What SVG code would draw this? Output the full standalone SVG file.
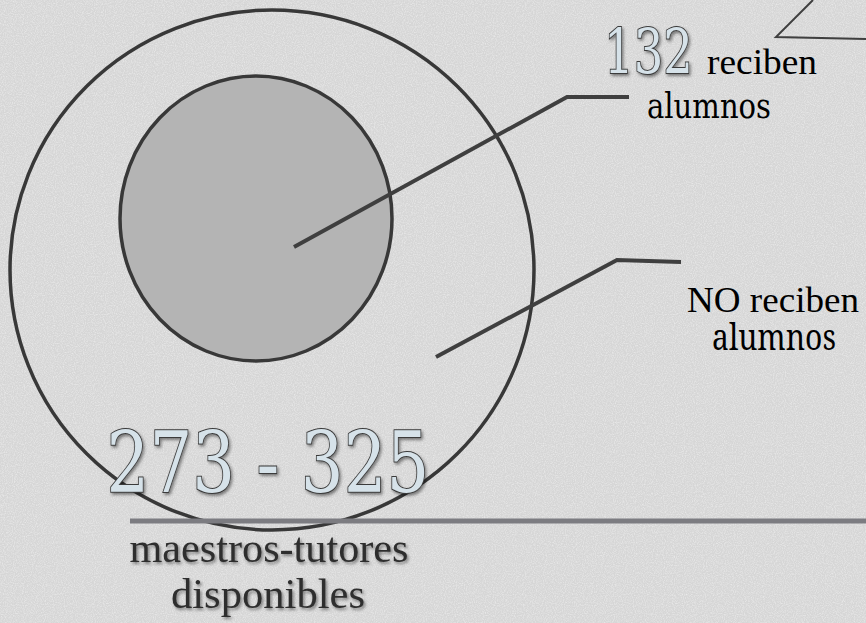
<svg xmlns="http://www.w3.org/2000/svg" width="866" height="623" viewBox="0 0 866 623">
  <defs>
    <filter id="noise" x="0" y="0" width="100%" height="100%">
      <feTurbulence type="fractalNoise" baseFrequency="0.9" numOctaves="2" seed="3" result="t"/>
      <feColorMatrix in="t" type="matrix" values="0 0 0 0 1  0 0 0 0 1  0 0 0 0 1  0.9 0 0 0 -0.35"/>
    </filter>
    <filter id="shadow" x="-10%" y="-10%" width="130%" height="140%">
      <feDropShadow dx="1.5" dy="2" stdDeviation="1.5" flood-color="#000" flood-opacity="0.45"/>
    </filter>
    <style>
      .ring { fill: none; stroke: #383838; stroke-width: 3.5; }
      .leader { fill: none; stroke: #3f3f3f; stroke-width: 4; stroke-linejoin: miter; }
      .big { fill: #d6e2e9; stroke: #3b3b3b; stroke-width: 2; paint-order: stroke; filter: url(#shadow); }
      .label { font-size: 36px; fill: #000; text-anchor: middle; }
      .caption { font-size: 42px; fill: #2e2e2e; text-anchor: middle; filter: url(#shadow); }
    </style>
  </defs>

  <rect width="866" height="623" fill="#d6d6d6"/>
  <rect width="866" height="623" filter="url(#noise)"/>

  <g id="outer-circle">
    <ellipse class="ring" cx="272" cy="270" rx="262" ry="260"/>
  </g>
  <g id="inner-circle">
    <ellipse cx="256" cy="218.5" rx="136" ry="142.5" fill="#b4b4b4" stroke="#383838" stroke-width="3.5"/>
  </g>

  <g id="connectors">
    <polyline class="leader" points="294,247 567,97 629,97"/>
    <polyline class="leader" points="436,357 617,260 681,262"/>
    <polyline points="813,0 776,37 866,39" fill="none" stroke="#3f3f3f" stroke-width="2"/>
    <line x1="130" y1="521" x2="866" y2="521" stroke="#7c7c81" stroke-width="5"/>
  </g>

  <g id="recipients">
    <text class="big" x="604" y="73" font-size="62" stroke-width="3" textLength="89" lengthAdjust="spacingAndGlyphs" style="font-family: 'DejaVu Serif'">132</text>
    <text class="label" x="762" y="74" textLength="110" lengthAdjust="spacingAndGlyphs" style="font-family: 'Liberation Serif'">reciben</text>
    <text class="label" x="709" y="118" textLength="124" lengthAdjust="spacingAndGlyphs" style="font-family: 'DejaVu Serif'">alumnos</text>
  </g>

  <g id="non-recipients">
    <text class="label" x="773" y="312" textLength="172" lengthAdjust="spacingAndGlyphs" style="font-family: 'Times New Roman'">NO reciben</text>
    <text class="label" x="774" y="350" textLength="124" lengthAdjust="spacingAndGlyphs" style="font-family: 'Noto Serif'">alumnos</text>
  </g>

  <g id="total">
    <text class="big" x="268" y="492" font-size="85" text-anchor="middle" textLength="323" lengthAdjust="spacingAndGlyphs" style="font-family: 'DejaVu Serif'">273 - 325</text>
    <text class="caption" x="269" y="562" textLength="279" lengthAdjust="spacingAndGlyphs" style="font-family: serif">maestros-tutores</text>
    <text class="caption" x="268" y="608" textLength="194" lengthAdjust="spacingAndGlyphs" style="font-family: serif">disponibles</text>
  </g>
</svg>
